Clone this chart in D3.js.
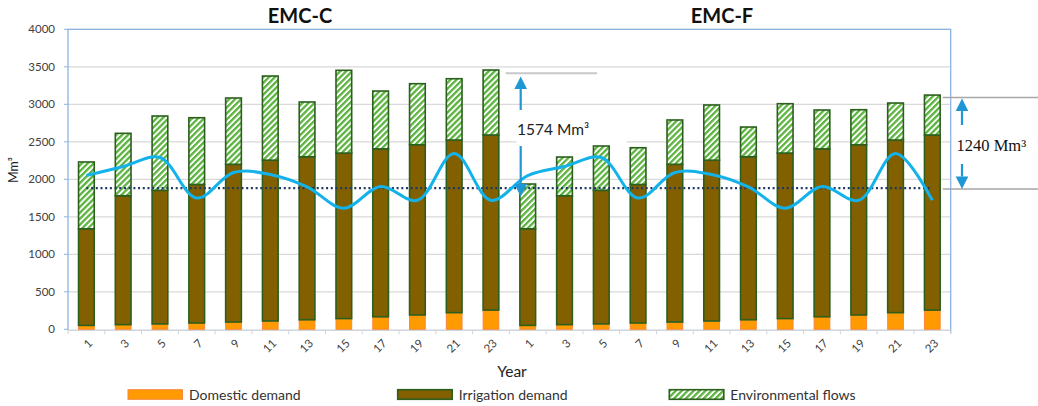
<!DOCTYPE html>
<html>
<head>
<meta charset="utf-8">
<script src="https://cdn.jsdelivr.net/npm/d3@7"></script>
<style>
  html, body { margin: 0; padding: 0; background: #fff; }
  svg { display: block; font-family: Lato, "Open Sans", sans-serif; }
</style>
</head>
<body>
<svg id="chart" width="1038" height="406"></svg>
<script>
// Year labels for the two scenarios (EMC-C, then EMC-F)
const yearsPerScenario = ["1","3","5","7","9","11","13","15","17","19","21","23"];
const scenarios = ["EMC-C", "EMC-F"];
const categories = scenarios.flatMap(s => yearsPerScenario.map(y => ({scenario: s, year: y})));

// Demands in Mm3 (stacked)
const domesticDemand = [52, 62, 72, 84, 97, 111, 127, 143, 167, 191, 222, 256,
                        52, 62, 72, 84, 97, 111, 127, 143, 167, 191, 222, 256];
const irrigationDemand = [1288, 1719, 1781, 1847, 2103, 2144, 2174, 2207, 2239, 2270, 2302, 2335,
                          1288, 1719, 1781, 1847, 2103, 2144, 2174, 2207, 2239, 2270, 2302, 2335];
const environmentalFlows = [891, 832, 991, 890, 884, 1122, 730, 1103, 771, 814, 817, 866,
                            597, 516, 591, 490, 591, 736, 396, 658, 518, 467, 493, 532];
// Available water (smoothed line) and mean level (dotted line)
const availableWater = [2050, 2170, 2290, 1750, 2090, 2065, 1900, 1615, 1905, 1720, 2345, 1720,
                        2050, 2170, 2290, 1750, 2090, 2065, 1900, 1615, 1905, 1720, 2345, 1720];
const meanLevel = 1883;
const yTicks = [0, 500, 1000, 1500, 2000, 2500, 3000, 3500, 4000];

const svg = d3.select("#chart");
const plot = {left: 68, right: 950.7, top: 29.3, bottom: 329.3};

const x = d3.scaleBand()
  .domain(d3.range(categories.length))
  .range([plot.left, plot.right])
  .paddingInner(0.573)
  .paddingOuter(0.2865);
const y = d3.scaleLinear().domain([0, 4000]).range([plot.bottom, plot.top]);

// Hatch pattern for environmental flows
const defs = svg.append("defs");
const pat = defs.append("pattern")
  .attr("id", "hatch")
  .attr("patternUnits", "userSpaceOnUse")
  .attr("width", 4.2).attr("height", 4.2)
  .attr("patternTransform", "rotate(45)");
pat.append("rect").attr("width", 4.2).attr("height", 4.2).attr("fill", "#ffffff");
pat.append("rect").attr("x", 0).attr("width", 2.3).attr("height", 4.2).attr("fill", "#5cb33f");

// Gridlines
svg.append("g").selectAll("line").data(yTicks.slice(1)).join("line")
  .attr("x1", plot.left).attr("x2", plot.right)
  .attr("y1", d => y(d)).attr("y2", d => y(d))
  .attr("stroke", "#d9d9d9").attr("stroke-width", 1.2);

// Plot-area border
svg.append("path")
  .attr("d", `M${plot.left},${plot.bottom + 1}V${plot.top}H${plot.right}V${plot.bottom + 4}`)
  .attr("fill", "none").attr("stroke", "#8db3e2").attr("stroke-width", 1.3);

// Y axis
const yAxis = svg.append("g");
yAxis.selectAll("line").data(yTicks).join("line")
  .attr("x1", plot.left - 4).attr("x2", plot.left)
  .attr("y1", d => y(d)).attr("y2", d => y(d))
  .attr("stroke", "#8db3e2").attr("stroke-width", 1);
yAxis.selectAll("text").data(yTicks).join("text")
  .attr("x", 55).attr("y", d => y(d)).attr("dy", "0.35em")
  .attr("text-anchor", "end").attr("font-size", 11.5).attr("fill", "#404040")
  .text(d => d);
svg.append("text")
  .attr("transform", "translate(18,170) rotate(-90)")
  .attr("text-anchor", "middle").attr("font-size", 12.5).attr("fill", "#222")
  .text("Mm³");

// X axis
svg.append("line")
  .attr("x1", plot.left).attr("x2", plot.right)
  .attr("y1", plot.bottom + 1).attr("y2", plot.bottom + 1)
  .attr("stroke", "#d0d5dc").attr("stroke-width", 1.5);
const step = x.step();
svg.append("g").selectAll("line").data(d3.range(categories.length + 1)).join("line")
  .attr("x1", i => plot.left + i * step).attr("x2", i => plot.left + i * step)
  .attr("y1", plot.bottom + 1).attr("y2", plot.bottom + 5)
  .attr("stroke", "#d0d5dc").attr("stroke-width", 1);
svg.append("g").selectAll("text").data(categories).join("text")
  .attr("transform", (d, i) => `translate(${x(i) + x.bandwidth() / 2 + 4},${plot.bottom + 12}) rotate(-45)`)
  .attr("text-anchor", "end").attr("dy", "0.35em")
  .attr("font-size", 11.5).attr("fill", "#404040")
  .text(d => d.year);
svg.append("text")
  .attr("x", 512).attr("y", 377).attr("text-anchor", "middle")
  .attr("font-size", 15.5).attr("fill", "#222").text("Year");

// Stacked bars
const rows = categories.map((c, i) => ({
  i,
  dom: domesticDemand[i],
  irr: irrigationDemand[i],
  env: environmentalFlows[i]
}));
const stack = d3.stack().keys(["dom", "irr", "env"])(rows);
const styles = {
  dom: {fill: "#ff9b00", stroke: "#f7883a", sw: 1},
  irr: {fill: "#826000", stroke: "#2c5f1e", sw: 1.6},
  env: {fill: "url(#hatch)", stroke: "#2c5f1e", sw: 1.6}
};
stack.forEach(layer => {
  const st = styles[layer.key];
  svg.append("g").selectAll("rect").data(layer).join("rect")
    .attr("x", d => x(d.data.i))
    .attr("width", x.bandwidth())
    .attr("y", d => y(d[1]))
    .attr("height", d => y(d[0]) - y(d[1]))
    .attr("fill", st.fill).attr("stroke", st.stroke).attr("stroke-width", st.sw);
});

// Mean level (dotted)
const cx = i => x(i) + x.bandwidth() / 2;
svg.append("line")
  .attr("x1", cx(0)).attr("x2", cx(categories.length - 1))
  .attr("y1", y(meanLevel)).attr("y2", y(meanLevel))
  .attr("stroke", "#1f3864").attr("stroke-width", 2.2)
  .attr("stroke-dasharray", "2 2.7");

// Available water (smooth line)
svg.append("path")
  .datum(availableWater)
  .attr("d", d3.line().x((d, i) => cx(i)).y(d => y(d)).curve(d3.curveCatmullRom.alpha(0.5)))
  .attr("fill", "none").attr("stroke", "#14b2ea").attr("stroke-width", 3);

// Scenario titles
[["EMC-C", 300], ["EMC-F", 722]].forEach(([t, px]) => {
  svg.append("text").attr("x", px).attr("y", 23).attr("text-anchor", "middle")
    .attr("font-size", 20).attr("font-weight", "bold").attr("fill", "#111").text(t);
});

// Range annotations
const totals = rows.map(r => r.dom + r.irr + r.env);
const maxC = d3.max(totals.slice(0, 12));
const maxF = d3.max(totals.slice(12));
const arrowColor = "#1f97d4";
function arrow(xp, yFrom, yTo) {
  const dir = yTo < yFrom ? -1 : 1;
  const headLen = 12.5, headW = 6.3;
  svg.append("line").attr("x1", xp).attr("x2", xp)
    .attr("y1", yFrom).attr("y2", yTo - dir * headLen)
    .attr("stroke", arrowColor).attr("stroke-width", 2.2);
  svg.append("path")
    .attr("d", `M${xp},${yTo}L${xp - headW},${yTo - dir * headLen}L${xp + headW},${yTo - dir * headLen}Z`)
    .attr("fill", arrowColor);
}

// EMC-C: 1574 Mm3
svg.append("line").attr("x1", 505.7).attr("x2", 597)
  .attr("y1", y(maxC) + 3.3).attr("y2", y(maxC) + 3.3)
  .attr("stroke", "#c8c8c8").attr("stroke-width", 2);
svg.append("rect").attr("x", 516.5).attr("y", 112).attr("width", 110).attr("height", 33).attr("fill", "#fff");
arrow(520.7, 110, y(maxC) + 6.5);
arrow(520.7, 146, y(meanLevel) + 8.5);
svg.append("text").attr("x", 517).attr("y", 135)
  .attr("font-size", 15.5).attr("fill", "#222")
  .text(`${Math.round(maxC - meanLevel)} Mm³`);

// EMC-F: 1240 Mm3
[y(maxF) + 2.5, y(meanLevel) + 1].forEach(yy => {
  svg.append("line").attr("x1", 942.7).attr("x2", 1038)
    .attr("y1", yy).attr("y2", yy)
    .attr("stroke", "#a6a6a6").attr("stroke-width", 1.5);
});
arrow(962, 125, y(maxF) + 3.5);
arrow(962, 164, y(meanLevel) + 1);
svg.append("text").attr("x", 956.5).attr("y", 151)
  .attr("font-family", "'Liberation Serif', 'DejaVu Serif', serif")
  .attr("font-size", 16.5).attr("fill", "#111")
  .text(`${Math.round((maxF - meanLevel) / 10) * 10} Mm³`);

// Legend
const legendItems = [
  {label: "Domestic demand", key: "dom", x: 128},
  {label: "Irrigation demand", key: "irr", x: 397.7},
  {label: "Environmental flows", key: "env", x: 669.3}
];
const lg = svg.append("g").selectAll("g").data(legendItems).join("g")
  .attr("transform", d => `translate(${d.x},389.7)`);
lg.append("rect").attr("width", 54.5).attr("height", 9.6)
  .attr("fill", d => styles[d.key].fill)
  .attr("stroke", d => styles[d.key].stroke).attr("stroke-width", d => styles[d.key].sw);
lg.append("text").attr("x", 61).attr("y", 9.8)
  .attr("font-size", 14).attr("fill", "#333").text(d => d.label);
</script>
</body>
</html>
